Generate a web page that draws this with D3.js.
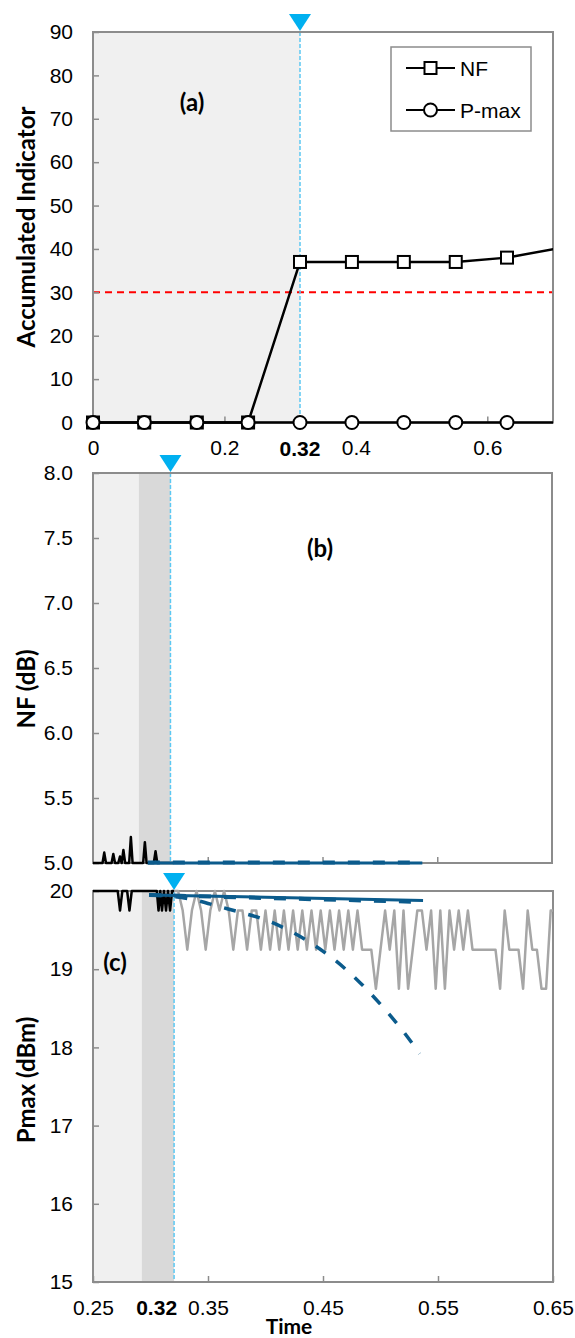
<!DOCTYPE html>
<html>
<head>
<meta charset="utf-8">
<script src="https://cdn.jsdelivr.net/npm/d3@7"></script>
<style>
  body { margin: 0; background: #fff; }
</style>
</head>
<body>
<div id="chart"></div>
<script>
// ---------------- data ----------------
// panel (a): accumulated indicators
const timeA = [0, 0.078, 0.158, 0.236, 0.315, 0.394, 0.473, 0.552, 0.630, 0.709];
const nfAccum = [0, 0, 0, 0, 37, 37, 37, 37, 38, 40.2];
const pmaxAccum = [0, 0, 0, 0, 0, 0, 0, 0, 0, 0];
const threshold = 30;
const legendNames = ['NF', 'P-max'];
const xTicksA = [0, 0.2, 0.4, 0.6];
const yTicksA = [0, 10, 20, 30, 40, 50, 60, 70, 80, 90];

// panel (b): NF measured (black) and predicted (blue)
const nfMeasured = [
  [0.250, 5], [0.2583, 5], [0.2598, 5.08], [0.2613, 5],
  [0.2662, 5], [0.2677, 5.07], [0.2692, 5],
  [0.2720, 5], [0.2735, 5.05], [0.2750, 5], [0.2765, 5.10], [0.2780, 5],
  [0.2815, 5], [0.2830, 5.20], [0.2845, 5],
  [0.2937, 5], [0.2952, 5.16], [0.2967, 5],
  [0.3030, 5], [0.3045, 5.09], [0.3060, 5],
  [0.3200, 5]
];
const nfPredSolid = [[0.2978, 5.0], [0.537, 5.0]];
const nfPredDashed = [[0.2978, 5.003], [0.537, 5.003]];
const yTicksB = [5, 5.5, 6, 6.5, 7, 7.5, 8];
const xTicksB = [0.35, 0.45, 0.55];

// panel (c): Pmax measured before (black) / after (gray), predictions (blue)
const pmaxBefore = [
  [0.250, 20], [0.2715, 20], [0.2735, 19.75], [0.2755, 20],
  [0.2797, 20], [0.2817, 19.75], [0.2837, 20],
  [0.3055, 20], [0.3070, 19.75], [0.3085, 20], [0.3100, 19.75], [0.3117, 20],
  [0.3135, 19.75], [0.3152, 20], [0.3170, 19.75], [0.3188, 20], [0.3205, 20]
];
const pmaxAfter = [
  [0.320, 20], [0.324, 20], [0.328, 19.75], [0.332, 19.25], [0.336, 19.75], [0.340, 20],
  [0.344, 19.75], [0.348, 19.25], [0.352, 19.75], [0.356, 20], [0.360, 19.75], [0.364, 20],
  [0.368, 19.75], [0.372, 19.25], [0.376, 19.75], [0.380, 19.75], [0.384, 19.25], [0.388, 19.75],
  [0.392, 19.75], [0.396, 19.25], [0.400, 19.75], [0.404, 19.25], [0.408, 19.75], [0.412, 19.25],
  [0.416, 19.75], [0.420, 19.25], [0.424, 19.75], [0.428, 19.25], [0.432, 19.75], [0.436, 19.25],
  [0.440, 19.75], [0.444, 19.25], [0.448, 19.75], [0.452, 19.25], [0.456, 19.75], [0.460, 19.25],
  [0.464, 19.75], [0.468, 19.25], [0.472, 19.75], [0.476, 19.25], [0.480, 19.75], [0.484, 19.25],
  [0.488, 19.25], [0.492, 19.25], [0.496, 18.75], [0.500, 19.25], [0.504, 19.75], [0.508, 19.25],
  [0.512, 19.75], [0.516, 18.75], [0.520, 19.75], [0.524, 18.75], [0.528, 19.25], [0.532, 19.75],
  [0.536, 19.75], [0.540, 19.25], [0.544, 19.75], [0.548, 18.75], [0.552, 19.75], [0.556, 18.75],
  [0.560, 19.75], [0.564, 19.25], [0.568, 19.75], [0.572, 19.25], [0.576, 19.75], [0.580, 19.25],
  [0.584, 19.25], [0.588, 19.25], [0.592, 19.25], [0.596, 19.25], [0.600, 19.25], [0.604, 18.75],
  [0.608, 19.75], [0.612, 19.25], [0.616, 19.25], [0.620, 19.25], [0.624, 18.75], [0.628, 19.75],
  [0.632, 19.25], [0.636, 19.25], [0.640, 18.75], [0.644, 18.75], [0.648, 19.75], [0.650, 19.75]
];
const pmaxPredSolid = [[0.2987, 19.95], [0.40, 19.92], [0.537, 19.88]];
const pmaxPredFlat = [[0.2987, 19.95], [0.40, 19.91], [0.537, 19.86]];
const pmaxPredCurve = [
  [0.300, 19.95], [0.320, 19.93], [0.340, 19.88], [0.360, 19.80], [0.380, 19.72],
  [0.400, 19.63], [0.420, 19.50], [0.440, 19.33], [0.460, 19.12], [0.480, 18.86],
  [0.500, 18.55], [0.520, 18.20], [0.534, 17.92]
];
const yTicksC = [15, 16, 17, 18, 19, 20];
const xTicksC = [0.25, 0.35, 0.45, 0.55, 0.65];

// event time and shaded windows per panel
const eventA = 0.315;
const eventB = 0.3175;
const eventC = 0.3205;
const shadeA = [[0, 0.315, 'light']];
const shadeB = [[0.25, 0.29, 'light'], [0.29, 0.3175, 'dark']];
const shadeC = [[0.25, 0.2925, 'light'], [0.2925, 0.3205, 'dark']];

// ---------------- layout ----------------
const width = 575;
const height = 1338;
const boxA = { left: 93, right: 553, top: 32, bottom: 422.5 };
const boxB = { left: 93, right: 552, top: 473, bottom: 863 };
const boxC = { left: 93, right: 553, top: 891, bottom: 1282 };

const frameGray = '#8c8c8c';
const blue = '#0b5b8c';
const cyan = '#00b0f0';
const tickFont = '"Liberation Sans", Arial, sans-serif';
const titleFont = 'Lato, "Open Sans", sans-serif';
const shadeColor = { light: '#f0f0f0', dark: '#d9d9d9' };

const svg = d3.select('#chart')
  .append('svg')
  .attr('width', width)
  .attr('height', height)
  .style('background', '#fff');

// scales
const xA = d3.scaleLinear().domain([0, 0.7]).range([boxA.left, boxA.right]);
const yA = d3.scaleLinear().domain([0, 90]).range([boxA.bottom, boxA.top]);
const xB = d3.scaleLinear().domain([0.25, 0.65]).range([boxB.left, boxB.right]);
const yB = d3.scaleLinear().domain([5, 8]).range([boxB.bottom, boxB.top]);
const xC = d3.scaleLinear().domain([0.25, 0.65]).range([boxC.left, boxC.right]);
const yC = d3.scaleLinear().domain([15, 20]).range([boxC.bottom, boxC.top]);

// ---------------- helpers ----------------
function addClip(id, box) {
  svg.append('clipPath').attr('id', id)
    .append('rect')
    .attr('x', box.left)
    .attr('y', box.top - 3)
    .attr('width', box.right - box.left)
    .attr('height', box.bottom - box.top + 6);
}

function drawShade(x, box, windows) {
  windows.forEach(w => {
    svg.append('rect')
      .attr('x', x(w[0]))
      .attr('y', box.top)
      .attr('width', x(w[1]) - x(w[0]))
      .attr('height', box.bottom - box.top)
      .attr('fill', shadeColor[w[2]]);
  });
}

function drawFrame(box) {
  svg.append('rect')
    .attr('x', box.left)
    .attr('y', box.top)
    .attr('width', box.right - box.left)
    .attr('height', box.bottom - box.top)
    .attr('fill', 'none')
    .attr('stroke', frameGray)
    .attr('stroke-width', 2);
}

function drawEvent(x, box, t) {
  const ex = x(t);
  svg.append('line')
    .attr('x1', ex).attr('x2', ex)
    .attr('y1', box.top).attr('y2', box.bottom)
    .attr('stroke', '#5cc8f2')
    .attr('stroke-width', 1.5)
    .attr('stroke-dasharray', '4,2');
  // downward triangle above the panel
  svg.append('path')
    .attr('d', `M${ex - 11},${box.top - 18} L${ex + 11},${box.top - 18} L${ex},${box.top - 1} Z`)
    .attr('fill', cyan);
}

function drawLine(data, x, y, clipId, color, w, dash, curve) {
  const line = d3.line()
    .x(d => x(d[0]))
    .y(d => y(d[1]))
    .curve(curve || d3.curveLinear);
  svg.append('path')
    .datum(data)
    .attr('d', line)
    .attr('clip-path', `url(#${clipId})`)
    .attr('fill', 'none')
    .attr('stroke', color)
    .attr('stroke-width', w)
    .attr('stroke-linejoin', 'round')
    .attr('stroke-dasharray', dash || null);
}

function yAxis(scale, box, ticks, fmt) {
  const g = svg.append('g')
    .attr('transform', `translate(${box.left},0)`)
    .call(d3.axisLeft(scale).tickValues(ticks).tickSize(-6).tickPadding(20).tickFormat(fmt));
  g.select('.domain').remove();
  g.selectAll('line').attr('stroke', frameGray).attr('stroke-width', 1.5);
  g.selectAll('text')
    .attr('font-family', tickFont)
    .attr('font-size', 21)
    .attr('fill', '#000');
}

function xAxis(scale, box, ticks, fmt) {
  const g = svg.append('g')
    .attr('transform', `translate(0,${box.bottom})`)
    .call(d3.axisBottom(scale).tickValues(ticks).tickSize(-6).tickPadding(18).tickFormat(fmt));
  g.select('.domain').remove();
  g.selectAll('line').attr('stroke', frameGray).attr('stroke-width', 1.5);
  g.selectAll('text')
    .attr('font-family', tickFont)
    .attr('font-size', 21)
    .attr('fill', '#000');
  return g;
}

function boldTick(x, y, label, anchor) {
  svg.append('text')
    .attr('x', x)
    .attr('y', y)
    .attr('text-anchor', anchor)
    .attr('font-family', tickFont)
    .attr('font-size', 21)
    .attr('font-weight', 'bold')
    .attr('fill', '#000')
    .text(label);
}

function title(x, y, label, rotate, size) {
  svg.append('text')
    .attr('transform', `translate(${x},${y})` + (rotate ? ' rotate(-90)' : ''))
    .attr('text-anchor', 'middle')
    .attr('font-family', titleFont)
    .attr('font-size', size || 24)
    .attr('font-weight', 'bold')
    .attr('fill', '#000')
    .text(label);
}

// ---------------- panel (a) ----------------
addClip('clipA', boxA);
drawShade(xA, boxA, shadeA);

// threshold line
svg.append('line')
  .attr('x1', boxA.left).attr('x2', boxA.right)
  .attr('y1', yA(threshold)).attr('y2', yA(threshold))
  .attr('stroke', '#ff0000')
  .attr('stroke-width', 2)
  .attr('stroke-dasharray', '7,5');

drawEvent(xA, boxA, eventA);
drawFrame(boxA);
yAxis(yA, boxA, yTicksA, d3.format('d'));
xAxis(xA, boxA, xTicksA, d3.format('~g'));
boldTick(xA(eventA), boxA.bottom + 33, '0.32', 'middle');

const nfPts = timeA.map((t, i) => [t, nfAccum[i]]);
const pmPts = timeA.map((t, i) => [t, pmaxAccum[i]]);
drawLine(nfPts, xA, yA, 'clipA', '#000', 2.5);
drawLine(pmPts, xA, yA, 'clipA', '#000', 2.5);

// markers (only those inside the axis range)
svg.selectAll('.sq')
  .data(nfPts.filter(d => d[0] <= 0.7))
  .enter().append('rect')
  .attr('x', d => xA(d[0]) - 6)
  .attr('y', d => yA(d[1]) - 6)
  .attr('width', 12)
  .attr('height', 12)
  .attr('fill', '#fff')
  .attr('stroke', '#000')
  .attr('stroke-width', 2);

svg.selectAll('.ci')
  .data(pmPts.filter(d => d[0] <= 0.7))
  .enter().append('circle')
  .attr('cx', d => xA(d[0]))
  .attr('cy', d => yA(d[1]))
  .attr('r', 6.5)
  .attr('fill', '#fff')
  .attr('stroke', '#000')
  .attr('stroke-width', 2);

// legend
svg.append('rect')
  .attr('x', 391).attr('y', 47)
  .attr('width', 140).attr('height', 84)
  .attr('fill', '#fff')
  .attr('stroke', frameGray)
  .attr('stroke-width', 1.5);

legendNames.forEach((name, i) => {
  const ly = 68 + i * 42;
  svg.append('line')
    .attr('x1', 406).attr('x2', 455)
    .attr('y1', ly).attr('y2', ly)
    .attr('stroke', '#000')
    .attr('stroke-width', 2);
  if (i === 0) {
    svg.append('rect')
      .attr('x', 424.5).attr('y', ly - 6)
      .attr('width', 12).attr('height', 12)
      .attr('fill', '#fff').attr('stroke', '#000').attr('stroke-width', 2);
  } else {
    svg.append('circle')
      .attr('cx', 430.5).attr('cy', ly).attr('r', 6.5)
      .attr('fill', '#fff').attr('stroke', '#000').attr('stroke-width', 2);
  }
  svg.append('text')
    .attr('x', 460)
    .attr('y', ly + 7.5)
    .attr('font-family', tickFont)
    .attr('font-size', 21)
    .attr('fill', '#000')
    .text(name);
});

title(35, 227, 'Accumulated Indicator', true);
title(192, 111, '(a)', false);

// ---------------- panel (b) ----------------
addClip('clipB', boxB);
drawShade(xB, boxB, shadeB);
drawEvent(xB, boxB, eventB);
drawFrame(boxB);
yAxis(yB, boxB, yTicksB, d3.format('.1f'));
xAxis(xB, boxB, xTicksB, () => '');

drawLine(nfMeasured, xB, yB, 'clipB', '#000', 2.5);
drawLine(nfPredSolid, xB, yB, 'clipB', blue, 3);
drawLine(nfPredDashed, xB, yB, 'clipB', blue, 4, '12,13');

title(35, 689, 'NF (dB)', true);
title(320, 557, '(b)', false);

// ---------------- panel (c) ----------------
addClip('clipC', boxC);
drawShade(xC, boxC, shadeC);
drawEvent(xC, boxC, eventC);
drawFrame(boxC);
yAxis(yC, boxC, yTicksC, d3.format('d'));
xAxis(xC, boxC, xTicksC, d3.format('.2f'));
boldTick(xC(eventC) + 3, boxC.bottom + 33, '0.32', 'end');

drawLine(pmaxAfter, xC, yC, 'clipC', '#a6a6a6', 2.5);
drawLine(pmaxBefore, xC, yC, 'clipC', '#000', 2.5);
drawLine(pmaxPredSolid, xC, yC, 'clipC', blue, 3);
drawLine(pmaxPredFlat, xC, yC, 'clipC', blue, 4, '12,13');
drawLine(pmaxPredCurve, xC, yC, 'clipC', blue, 3.5, '12,13', d3.curveMonotoneX);

title(35, 1080, 'Pmax (dBm)', true);
title(115, 971, '(c)', false);
title(289, 1334, 'Time', false, 21);
</script>
</body>
</html>
